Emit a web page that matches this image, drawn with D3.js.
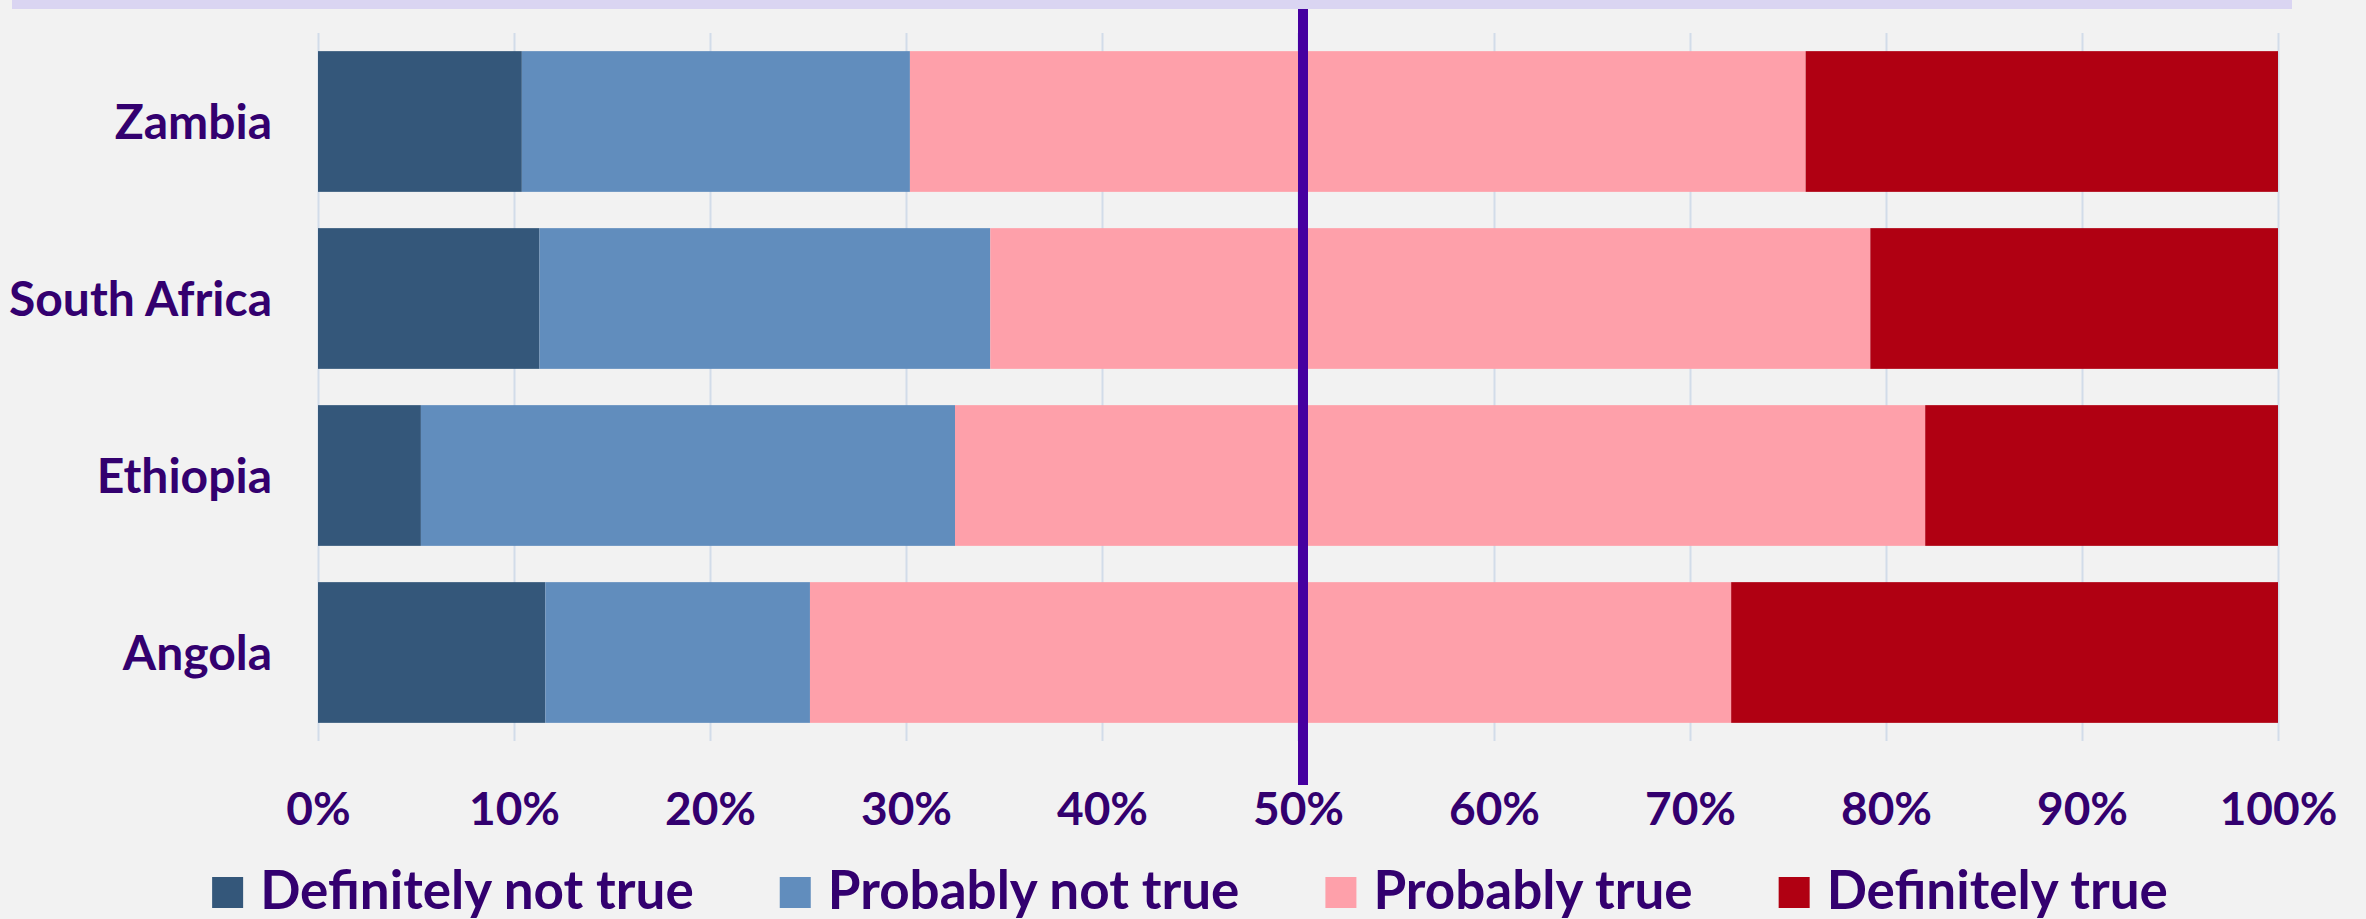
<!DOCTYPE html>
<html>
<head>
<meta charset="utf-8">
<script src="https://cdn.jsdelivr.net/npm/d3@7"></script>
<style>
  html, body { margin: 0; padding: 0; background: #f2f2f2; }
  svg { display: block; }
  text { font-family: Lato, "Open Sans", sans-serif; font-weight: 700; fill: #33006f; }
</style>
</head>
<body>
<div id="chart"></div>
<script>
// data (shares in %)
var countries = ["Zambia", "South Africa", "Ethiopia", "Angola"];
var answers = ["Definitely not true", "Probably not true", "Probably true", "Definitely true"];
var definitelyNot = [10.4, 11.3, 5.25, 11.6];
var probablyNot = [19.8, 23.0, 27.25, 13.5];
var probablyTrue = [45.7, 44.9, 49.5, 47.0];
var definitelyTrue = [24.1, 20.8, 18.0, 27.9];
var tickValues = [0, 10, 20, 30, 40, 50, 60, 70, 80, 90, 100];
var colors = ["#34577a", "#618dbd", "#fea0aa", "#b00012"];

var svgWidth = 2366;
var svgHeight = 919;

var margin = { top: 33, right: 88, bottom: 178, left: 318 };
var width = svgWidth - margin.left - margin.right;
var height = svgHeight - margin.top - margin.bottom;

var svg = d3.select("#chart")
    .append("svg")
    .attr("width", svgWidth)
    .attr("height", svgHeight);

svg.append("rect")
    .attr("width", svgWidth)
    .attr("height", svgHeight)
    .attr("fill", "#f2f2f2");

// lavender strip at the very top
svg.append("rect")
    .attr("x", 12)
    .attr("y", 0)
    .attr("width", 2280)
    .attr("height", 9)
    .attr("fill", "#dad5f2");

var chartGroup = svg.append("g")
    .attr("transform", `translate(${margin.left}, ${margin.top})`);

// build rows for stacking
var rows = countries.map(function(c, i) {
    return {
        country: c,
        "Definitely not true": definitelyNot[i],
        "Probably not true": probablyNot[i],
        "Probably true": probablyTrue[i],
        "Definitely true": definitelyTrue[i]
    };
});
var stacked = d3.stack().keys(answers)(rows);

var xScale = d3.scaleLinear().domain([0, 100]).range([0, width]);
var yScale = d3.scaleBand()
    .domain(countries)
    .range([0, height])
    .paddingInner(0.205)
    .paddingOuter(0.1025);
var colorScale = d3.scaleOrdinal().domain(answers).range(colors);

// gridlines
var grid = chartGroup.append("g")
    .call(d3.axisBottom(xScale).tickValues(tickValues).tickSize(height).tickFormat(""));
grid.select(".domain").remove();
grid.selectAll("line").attr("stroke", "#d2dce9").attr("stroke-width", 2);

// bars
chartGroup.selectAll(".series")
    .data(stacked)
    .enter()
    .append("g")
    .attr("class", "series")
    .attr("fill", d => colorScale(d.key))
    .selectAll("rect")
    .data(d => d)
    .enter()
    .append("rect")
    .attr("x", d => xScale(d[0]))
    .attr("y", d => yScale(d.data.country))
    .attr("width", d => xScale(d[1]) - xScale(d[0]))
    .attr("height", yScale.bandwidth());

// country labels
var yAxis = chartGroup.append("g")
    .call(d3.axisLeft(yScale).tickSize(0).tickPadding(46));
yAxis.select(".domain").remove();
yAxis.selectAll("text")
    .style("font-size", "48px")
    .attr("dy", "0.36em");

// percent labels
var xAxis = chartGroup.append("g")
    .attr("transform", `translate(0, ${height})`)
    .call(d3.axisBottom(xScale).tickValues(tickValues).tickSize(0).tickFormat(d => d + "%"));
xAxis.select(".domain").remove();
xAxis.selectAll("text")
    .style("font-size", "46px")
    .attr("y", 84)
    .attr("dy", null);

// 50% marker
svg.append("rect")
    .attr("x", margin.left + xScale(50))
    .attr("y", 9)
    .attr("width", 10)
    .attr("height", 776)
    .attr("fill", "#4600a0");

// legend
var legend = svg.append("g");
var items = legend.selectAll("g")
    .data(answers)
    .enter()
    .append("g");
items.append("rect")
    .attr("y", 877)
    .attr("width", 31)
    .attr("height", 31)
    .attr("fill", d => colorScale(d));
items.append("text")
    .attr("x", 48)
    .attr("y", 909)
    .style("font-size", "53px")
    .text(d => d);

var offsets = [];
var pos = 0;
items.each(function(d, i) {
    offsets.push(pos);
    var w = 48 + this.querySelector("text").getComputedTextLength();
    pos += w + (i < answers.length - 1 ? 86 : 0);
});
var startX = 1190 - pos / 2;
items.attr("transform", (d, i) => `translate(${startX + offsets[i]}, 0)`);
</script>
</body>
</html>
